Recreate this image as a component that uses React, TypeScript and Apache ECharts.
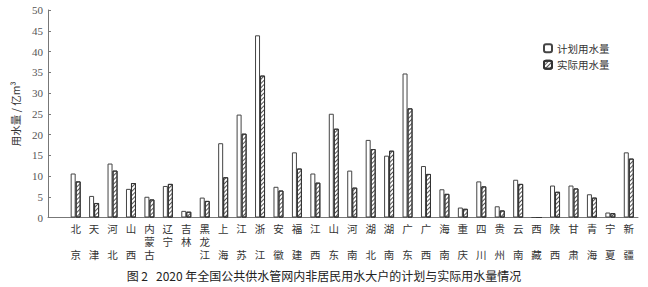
import React, { useEffect, useRef } from "react";
import * as echarts from "echarts";

const categories = [
  "北\n\n京", "天\n\n津", "河\n\n北", "山\n\n西", "内\n蒙\n古", "辽\n宁", "吉\n林", "黑\n龙\n江",
  "上\n\n海", "江\n\n苏", "浙\n\n江", "安\n\n徽", "福\n\n建", "江\n\n西", "山\n\n东", "河\n\n南",
  "湖\n\n北", "湖\n\n南", "广\n\n东", "广\n\n西", "海\n\n南", "重\n\n庆", "四\n\n川", "贵\n\n州",
  "云\n\n南", "西\n\n藏", "陕\n\n西", "甘\n\n肃", "青\n\n海", "宁\n\n夏", "新\n\n疆",
];

const planned = [
  10.6, 5.2, 13.0, 6.9, 5.0, 7.6, 1.6, 4.8, 17.9, 24.8, 43.9, 7.4, 15.7, 10.6, 25.0, 11.3,
  18.7, 14.9, 34.7, 12.4, 6.8, 2.4, 8.7, 2.7, 9.1, 0, 7.7, 7.7, 5.6, 1.2, 15.7,
];

const actual = [
  8.7, 3.5, 11.3, 8.3, 4.35, 8.1, 1.4, 4.0, 9.7, 20.2, 34.2, 6.5, 11.8, 8.4, 21.4, 7.2,
  16.5, 16.1, 26.3, 10.5, 5.7, 2.1, 7.5, 1.7, 8.1, 0, 6.2, 7.0, 4.8, 1.05, 14.2,
];

const seriesNames = ["计划用水量", "实际用水量"];
const yAxisName = "用水量 / 亿m³";
const caption = "图 2   2020 年全国公共供水管网内非居民用水大户的计划与实际用水量情况";

export default function App() {
  const ref = useRef<HTMLDivElement>(null);
  useEffect(() => {
    if (!ref.current) return;
    const chart = echarts.init(ref.current, undefined, { renderer: "svg" });
    const cjk = "'Noto Sans CJK SC', sans-serif";
    const serif = "'Liberation Serif', serif";
    const axisColor = "#777";
    chart.setOption({
      animation: false,
      backgroundColor: "#fff",
      title: {
        text: caption,
        left: "center",
        top: 264,
        textStyle: { fontSize: 12, fontWeight: "normal", color: "#222", fontFamily: cjk },
      },
      legend: {
        orient: "vertical",
        left: 538,
        top: 38,
        itemWidth: 8,
        itemHeight: 8,
        itemGap: 6,
        textStyle: { fontSize: 10.5, color: "#333", fontFamily: cjk },
        data: seriesNames,
      },
      grid: { left: 48, right: 10, top: 10, bottom: 69.5, containLabel: false },
      xAxis: {
        type: "category",
        data: ["", ...categories],
        axisLine: { lineStyle: { color: axisColor, width: 1 } },
        axisTick: { inside: true, length: 3, lineStyle: { color: axisColor } },
        axisLabel: {
          interval: 0,
          margin: 4,
          fontSize: 10.5,
          lineHeight: 13,
          color: "#333",
          fontFamily: cjk,
          verticalAlign: "top",
        },
      },
      yAxis: {
        type: "value",
        min: 0,
        max: 50,
        interval: 5,
        name: yAxisName,
        nameLocation: "middle",
        nameGap: 20,
        nameTextStyle: { fontSize: 10.5, color: "#333", fontFamily: cjk },
        axisLine: { show: true, lineStyle: { color: axisColor } },
        axisTick: { show: true, inside: true, length: 3, lineStyle: { color: axisColor } },
        axisLabel: { fontSize: 11, color: "#555", fontFamily: serif, margin: 5 },
        splitLine: { show: false },
      },
      series: [
        {
          name: seriesNames[0],
          type: "bar",
          barWidth: 5,
          barGap: "0%",
          data: [null, ...planned],
          itemStyle: { color: "#fff", borderColor: "#444", borderWidth: 1 },
        },
        {
          name: seriesNames[1],
          type: "bar",
          barWidth: 5,
          barGap: "0%",
          data: [null, ...actual],
          itemStyle: {
            color: "#fff",
            borderColor: "#333",
            borderWidth: 1,
            decal: {
              symbol: "rect",
              symbolSize: 1,
              dashArrayX: [1, 0],
              dashArrayY: [0.9, 1.3],
              rotation: -Math.PI / 4,
              color: "#555",
            },
          },
        },
      ],
    });
    return () => chart.dispose();
  }, []);
  return (
    <div
      ref={ref}
      style={{ position: "fixed", left: 0, top: 0, width: 648, height: 287, background: "#fff" }}
    />
  );
}
